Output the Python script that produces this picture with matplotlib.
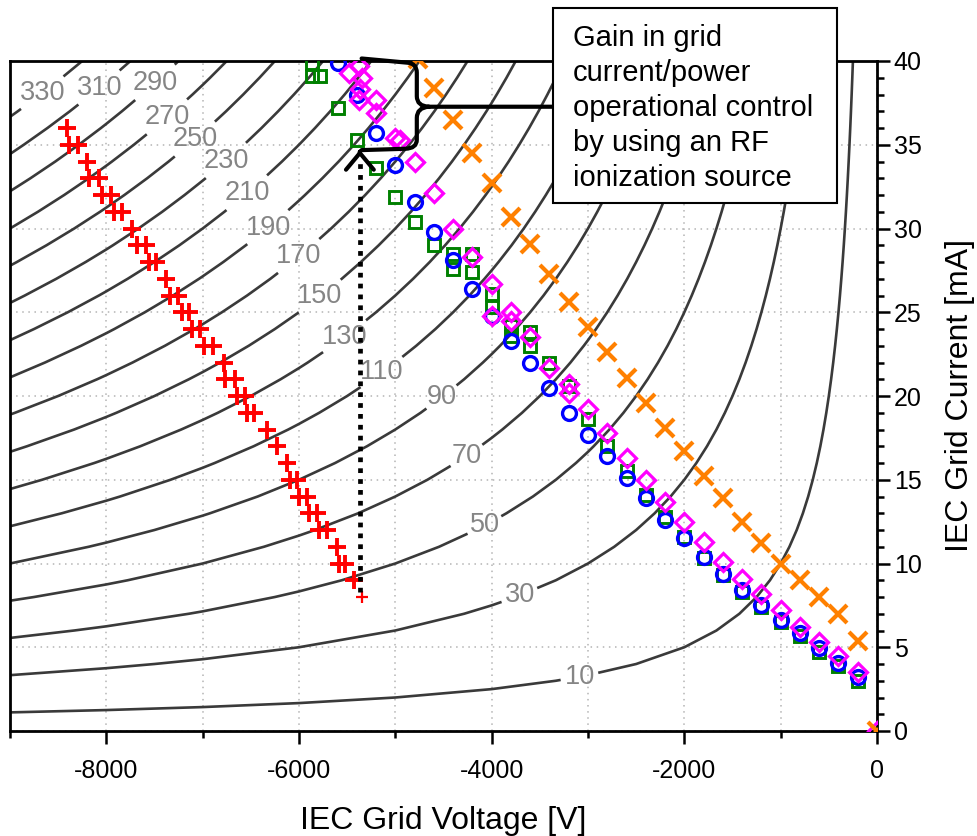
import numpy as np
import matplotlib.pyplot as plt
from matplotlib.path import Path
from matplotlib.patches import PathPatch, Rectangle

plt.rcParams['font.family'] = ['Liberation Sans', 'DejaVu Sans']
plt.rcParams['axes.unicode_minus'] = False

# iso-power lines [W] and the grid voltage where each label sits
power_levels = [10, 30, 50, 70, 90, 110, 130, 150, 170, 190, 210, 230, 250, 270, 290, 310, 330]
label_volts = [-3088, -3710, -4073, -4259, -4518, -5140, -5523, -5782, -6000,
               -6321, -6539, -6756, -7078, -7368, -7492, -8073, -8663]

# measured points: grid voltage [V], grid current [mA]
red_v = [-8404, -8387, -8290, -8197, -8180, -8076, -8042, -7956, -7921, -7834, -7731,
         -7679, -7593, -7558, -7489, -7378, -7344, -7254, -7213, -7143, -7109, -7023,
         -6988, -6895, -6781, -6764, -6660, -6643, -6557, -6539, -6470, -6332, -6228,
         -6125, -6090, -6021, -6003, -5917, -5900, -5814, -5796, -5710, -5606, -5589,
         -5520, -5433, -5347]
red_i = [36, 35, 35, 34, 33, 33, 32, 32, 31, 31, 30,
         29, 29, 28, 28, 27, 26, 26, 25, 25, 24, 24,
         23, 23, 22, 21, 21, 20, 20, 19, 19, 18, 17,
         16, 15, 15, 14, 14, 13, 13, 12, 12, 11, 10,
         10, 9, 8]

green_v = [-5870, -5870, -5780, -5600, -5400, -5200, -5000, -4800, -4600, -4400, -4400,
           -4200, -4200, -4000, -4000, -3800, -3800, -3600, -3600, -3400, -3200, -3000,
           -2800, -2600, -2400, -2200, -2000, -1800, -1600, -1400, -1200, -1000, -800,
           -600, -400, -200]
green_i = [39.9, 39.1, 39.1, 37.2, 35.3, 33.6, 31.9, 30.4, 29.0, 28.5, 27.6,
           28.5, 27.4, 26.1, 25.3, 24.2, 23.6, 23.8, 23.0, 22.0, 20.6, 18.6,
           17.0, 15.5, 14.1, 12.8, 11.6, 10.3, 9.3, 8.3, 7.4, 6.5, 5.7,
           4.7, 3.9, 3.0]

blue_v = [-5600, -5400, -5200, -5000, -4800, -4600, -4400, -4200, -4000, -3800, -3600,
          -3400, -3200, -3000, -2800, -2600, -2400, -2200, -2000, -1800, -1600, -1400,
          -1200, -1000, -800, -600, -400, -200]
blue_i = [39.9, 38.0, 35.7, 33.8, 31.6, 29.8, 28.1, 26.4, 24.8, 23.3, 22.0,
          20.5, 19.0, 17.7, 16.4, 15.1, 13.9, 12.6, 11.5, 10.4, 9.4, 8.4,
          7.5, 6.6, 5.85, 4.95, 4.06, 3.2]

magenta_v = [-5480, -5380, -5350, -5370, -5380, -5200, -5200, -5000, -4950, -4800, -4600,
             -4400, -4200, -4000, -4000, -3800, -3800, -3600, -3400, -3200, -3200,
             -3000, -2800, -2600, -2400, -2200, -2000, -1800, -1600, -1400, -1200,
             -1000, -800, -600, -400, -200, 0]
magenta_i = [39.3, 39.7, 39.0, 38.3, 37.7, 37.7, 36.9, 35.4, 35.3, 34.0, 32.1,
             30.0, 28.3, 26.7, 24.8, 25.0, 24.5, 23.5, 21.7, 20.7, 20.2,
             19.2, 17.8, 16.3, 15.0, 13.7, 12.5, 11.3, 10.1, 9.1, 8.2,
             7.2, 6.2, 5.3, 4.5, 3.5, 0]

orange_v = [-4760, -4600, -4400, -4200, -4000, -3800, -3600, -3400, -3200, -3000, -2800,
            -2600, -2400, -2200, -2000, -1800, -1600, -1400, -1200, -1000, -800, -600,
            -400, -200, 0]
orange_i = [40.1, 38.4, 36.5, 34.5, 32.7, 30.7, 29.1, 27.3, 25.6, 24.1, 22.6,
            21.1, 19.6, 18.1, 16.7, 15.2, 13.9, 12.5, 11.2, 10.0, 9.0, 8.0,
            7.0, 5.4, 0]

note = 'Gain in grid\ncurrent/power\noperational control\nby using an RF\nionization source'

# brace and arrow annotation (data coords)
brace_x = -4777
brace_left = -5350
brace_mid_i = 37.27
brace_box_v = -3347
arrow_v = -5368
arrow_from = 8.3
arrow_to = 34.7

fig = plt.figure(figsize=(9.77, 8.36), dpi=100)
ax = fig.add_axes([10 / 977, 1 - 731 / 836, 867 / 977, 670 / 836])

# power contours P = |V| * I
vv, ii = np.meshgrid(np.arange(-9000, 1, 1000), np.arange(0, 40.01, 1.0))
pp = -vv * ii / 1000.0
cs = ax.contour(vv, ii, pp, levels=power_levels, colors='#3a3a3a', linewidths=1.9, zorder=2)
label_pos = [(v, p * 1000.0 / -v) for p, v in zip(power_levels, label_volts)]
labels = ax.clabel(cs, power_levels, inline=True, fmt='%d', fontsize=19.5,
                   colors='#858585', manual=label_pos, inline_spacing=4)
for t in labels:
    t.set_rotation(0)

ax.plot(green_v, green_i, ls='none', marker='s', ms=8.5, mfc='none', mec='#008000', mew=2.1, zorder=4)
ax.plot(blue_v, blue_i, ls='none', marker='o', ms=10, mfc='none', mec='#0000ff', mew=2.4, zorder=5)
ax.plot(magenta_v, magenta_i, ls='none', marker='D', ms=9, mfc='none', mec='#ff00ff', mew=2.3, zorder=6)
ax.plot(orange_v, orange_i, ls='none', marker='x', ms=13, mec='#ff8000', mew=3, zorder=7)
ax.plot(red_v[:-1], red_i[:-1], ls='none', marker='+', ms=12.5, mec='#ff0000', mew=2.8, zorder=8)
ax.plot(red_v[-1:], red_i[-1:], ls='none', marker='+', ms=9, mec='#ff0000', mew=1.6, zorder=8)

# dotted arrow
ax.plot([arrow_v, arrow_v], [arrow_from, arrow_to - 0.6], color='k', lw=3.4,
        ls=(0, (1, 1.3)), dash_capstyle='butt', zorder=9)
ax.annotate('', xy=(arrow_v, arrow_to), xytext=(arrow_v, arrow_to - 0.15),
            arrowprops=dict(arrowstyle='->,head_length=0.6,head_width=0.5', lw=3,
                            color='k', shrinkA=0, shrinkB=0, mutation_scale=20), zorder=9)

# curly brace
verts = [(brace_left, 40.15), (brace_x - 100, 39.9), (brace_x, 39.87), (brace_x, 39.3),
         (brace_x, 37.9), (brace_x, 37.3), (brace_x + 125, brace_mid_i), (brace_box_v, brace_mid_i),
         (brace_x + 125, brace_mid_i), (brace_x, 37.22), (brace_x, 36.6),
         (brace_x, 35.3), (brace_x, 34.78), (brace_x - 120, 34.76), (brace_left, 34.68)]
codes = [Path.MOVETO, Path.LINETO, Path.CURVE3, Path.CURVE3,
         Path.LINETO, Path.CURVE3, Path.CURVE3, Path.LINETO,
         Path.MOVETO, Path.CURVE3, Path.CURVE3,
         Path.LINETO, Path.CURVE3, Path.CURVE3, Path.LINETO]
ax.add_patch(PathPatch(Path(verts, codes), fill=False, lw=3, ec='k', clip_on=False,
                       capstyle='round', joinstyle='round', zorder=9))

ax.set_xlim(-9000, 0)
ax.set_ylim(0, 40)
ax.set_xticks(np.arange(-8000, 1, 2000))
ax.set_xticks(np.arange(-9000, 1, 1000), minor=True)
ax.set_yticks(np.arange(0, 41, 5))
ax.set_yticks(np.arange(0, 41, 1), minor=True)
ax.yaxis.tick_right()
ax.yaxis.set_label_position('right')
ax.tick_params(axis='both', which='both', direction='out', width=1.8, labelsize=18)
ax.tick_params(axis='both', which='major', length=9)
ax.tick_params(axis='both', which='minor', length=5)
ax.tick_params(axis='x', which='major', pad=11)
ax.tick_params(axis='y', which='major', pad=3)
for s in ax.spines.values():
    s.set_linewidth(2)

ax.grid(True, which='both', axis='x', ls=(0, (1, 3)), color='#b4b4b4', lw=1.1)
ax.grid(True, which='major', axis='y', ls=(0, (1, 3)), color='#b4b4b4', lw=1.1)
ax.set_axisbelow(True)

ax.set_xlabel('IEC Grid Voltage [V]', fontsize=23, labelpad=17)
ax.set_ylabel('IEC Grid Current [mA]', fontsize=23, labelpad=17)

# note box
fig.add_artist(Rectangle((553 / 977, 1 - 203 / 836), 284 / 977, 195 / 836,
                         transform=fig.transFigure, fc='white', ec='k', lw=1.5, zorder=5))
fig.text(573 / 977, 1 - 186 / 836, note, fontsize=21, ha='left', va='baseline',
         linespacing=1.32, zorder=6)

fig.savefig('out.png', dpi=100)
